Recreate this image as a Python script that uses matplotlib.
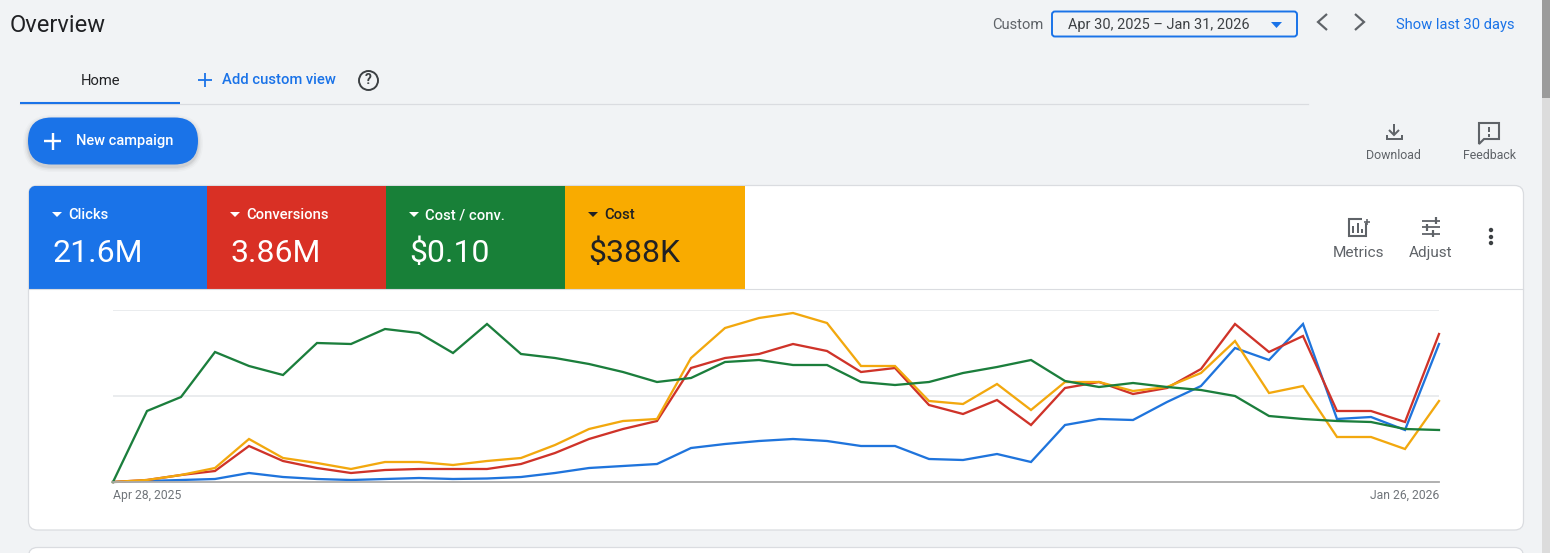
import matplotlib
matplotlib.use("Agg")
import matplotlib.pyplot as plt
from matplotlib.patches import Rectangle, FancyBboxPatch, Circle, Polygon
import numpy as np

plt.rcParams['font.family'] = ['Roboto', 'DejaVu Sans']

W, H = 1550, 553

# ---- data (height above the baseline) ----
weeks = np.arange(40)
tick_weeks = [0, 39]
tick_labels = ["Apr 28, 2025", "Jan 26, 2026"]
clicks = [0, 1, 2, 3, 9, 5, 3, 2, 3, 4, 3, 3.5, 5, 9, 14, 16, 18, 34, 38, 41, 43, 41, 36, 36,
          23, 22, 28, 20, 57, 63, 62, 80, 96, 134, 122, 158, 63, 65, 52, 138]
conversions = [0, 2, 7, 11, 36, 21, 14, 9, 12, 13, 13, 13, 18, 29, 43, 53, 61, 114, 124, 128, 138, 131, 110, 114,
               77, 68, 82, 57, 94, 100, 88, 94, 113, 158, 130, 146, 71, 71, 60, 148]
cost_per_conv = [0, 71, 85, 130, 116, 107, 139, 138, 153, 149, 129, 158, 128, 124, 118, 110, 100, 104, 120, 122, 117, 117, 100, 97,
                 100, 109, 115, 122, 101, 95, 99, 95, 92, 86, 66, 63, 61, 60, 53, 52]
cost = [0, 2, 7, 14, 43, 24, 19, 13, 20, 20, 17, 21, 24, 37, 53, 61, 63, 124, 154, 164, 169, 159, 116, 116,
        81, 78, 98, 72, 100, 100, 91, 95, 109, 141, 89, 96, 45, 45, 33, 81]

tiles = [("Clicks", "21.6M", "#1a73e8", "white"),
         ("Conversions", "3.86M", "#d93025", "white"),
         ("Cost / conv.", "$0.10", "#188038", "white"),
         ("Cost", "$388K", "#f9ab00", "#202124")]
tile_edges = [29, 207, 386, 565, 745]

BG = "#f1f3f5"
BLUE = "#1a73e8"
GREY = "#5f6368"
DARK = "#202124"

fig = plt.figure(figsize=(W / 100, H / 100), dpi=100, facecolor=BG)

# full-figure overlay in pixel coordinates for the page furniture
ui = fig.add_axes([0, 0, 1, 1], zorder=1)
ui.set_xlim(0, W)
ui.set_ylim(H, 0)
ui.axis("off")


def label(x, y, s, size, color=GREY, ha="left", weight="normal"):
    ui.text(x, y, s, fontsize=size * 0.72, color=color, ha=ha, va="center", fontweight=weight)


def stroke(xs, ys, color=GREY, lw=2.0):
    ui.plot(xs, ys, color=color, lw=lw * 0.72, solid_capstyle="butt", solid_joinstyle="miter")


# scrollbar
ui.add_patch(Rectangle((1542, 0), 8, H, fc="#dcdcdc", ec="none"))
ui.add_patch(Rectangle((1542, 0), 8, 98, fc="#9b9b9b", ec="none"))

# header
label(10, 25, "Overview", 23.6, DARK)
label(992, 25, "Custom", 14.8, GREY)
ui.add_patch(FancyBboxPatch((1052, 11.5), 245, 25, boxstyle="round,pad=0,rounding_size=3",
                            fc=BG, ec=BLUE, lw=1.4))
label(1068, 25, "Apr 30, 2025 \u2013 Jan 31, 2026", 14.5, "#3c4043")
ui.add_patch(Polygon([[1271, 22], [1282, 22], [1276.5, 28]], fc=BLUE, ec="none"))
stroke([1327, 1318, 1327], [14, 22, 30], GREY, 2.2)
stroke([1355, 1364, 1355], [14, 22, 30], GREY, 2.2)
label(1396, 25, "Show last 30 days", 14.7, BLUE)

# tabs
label(100, 81, "Home", 14.8, DARK, ha="center")
stroke([198, 212], [80, 80], BLUE, 1.8)
stroke([205, 205], [73, 87], BLUE, 1.8)
label(222, 80.5, "Add custom view", 14.8, BLUE, weight="medium")
ui.add_patch(Circle((368.5, 80.5), 9.5, fc="none", ec="#3c4043", lw=1.4))
ui.text(368.5, 80.5, "?", fontsize=10, color="#3c4043", ha="center", va="center", fontweight="bold")
ui.plot([20, 1308], [104, 104], color="#dadce0", lw=0.9)
ui.plot([20, 180], [103, 103], color=BLUE, lw=1.5, solid_capstyle="butt")

# new-campaign button with soft shadow
for grow, alpha in [(5, 0.02), (3.5, 0.03), (2, 0.04), (1, 0.05)]:
    ui.add_patch(FancyBboxPatch((28 - grow, 118 - grow + 2), 170 + 2 * grow, 47 + 2 * grow,
                                boxstyle=f"round,pad=0,rounding_size={23.5 + grow}",
                                fc="black", ec="none", alpha=alpha))
ui.add_patch(FancyBboxPatch((28, 117.5), 170, 47, boxstyle="round,pad=0,rounding_size=23.5",
                            fc=BLUE, ec="none"))
stroke([44, 61], [141, 141], "white", 2.4)
stroke([52.5, 52.5], [132.5, 149.5], "white", 2.4)
label(76, 141.5, "New campaign", 14.6, "white", weight="medium")

# download / feedback
stroke([1394, 1394], [124, 135], GREY, 2)
stroke([1389, 1394, 1399], [130, 135, 130], GREY, 2)
stroke([1386.5, 1386.5, 1401.5, 1401.5], [135, 139, 139, 135], GREY, 2)
label(1393.5, 155.5, "Download", 12.4, GREY, ha="center")
ui.add_patch(Polygon([[1479, 123], [1499, 123], [1499, 139], [1484, 139], [1479, 144]],
                     fc="none", ec=GREY, lw=1.5))
stroke([1489, 1489], [127, 132], GREY, 2)
stroke([1489, 1489], [134, 136.5], GREY, 2)
label(1489, 155.5, "Feedback", 12.4, GREY, ha="center")

# card
card = FancyBboxPatch((28.5, 185.5), 1495, 344.5, boxstyle="round,pad=0,rounding_size=9",
                      fc="white", ec="#dadce0", lw=0.9)
ui.add_patch(card)
next_card = FancyBboxPatch((28.5, 547.5), 1495, 40, boxstyle="round,pad=0,rounding_size=9",
                           fc="white", ec="#dadce0", lw=0.9)
ui.add_patch(next_card)
ui.plot([29, 1523], [289.2, 289.2], color="#dadce0", lw=0.8)

# metric tiles
for i, (name, value, colour, fg) in enumerate(tiles):
    x0, x1 = tile_edges[i], tile_edges[i + 1]
    r = Rectangle((x0, 186), x1 - x0, 103, fc=colour, ec="none")
    ui.add_patch(r)
    r.set_clip_path(card)
    ui.add_patch(Polygon([[x0 + 23, 212], [x0 + 33, 212], [x0 + 28, 217]], fc=fg, ec="none"))
    label(x0 + 39, 215, name, 14.7, fg, weight="medium")
    label(x0 + 23, 253.5, value, 32, fg)

# metrics / adjust / more
ui.add_patch(Rectangle((1349, 219), 17, 17, fc="none", ec=GREY, lw=1.5))
ui.add_patch(Rectangle((1362, 215), 8, 8, fc="white", ec="none"))
stroke([1364, 1370], [222, 222], GREY, 1.6)
stroke([1367, 1367], [219, 225], GREY, 1.6)
for bx, t in zip([1353, 1357.5, 1362], [226, 223, 229]):
    stroke([bx, bx], [t, 233], GREY, 2)
label(1358, 253, "Metrics", 15.4, GREY, ha="center")
for y, k in zip([220.5, 227, 233.5], [1436, 1427, 1433]):
    stroke([1422, 1440], [y, y], GREY, 1.8)
    stroke([k, k], [y - 3.5, y + 3.5], GREY, 2.2)
    ui.add_patch(Rectangle((k - 3.5 if k != 1427 else k + 1, y - 2), 2.5, 4, fc="white", ec="none"))
label(1431, 252.5, "Adjust", 15.2, GREY, ha="center")
for y in [230, 237, 243]:
    ui.add_patch(Circle((1491, y), 2.2, fc="#3c4043", ec="none"))

# chart
ax = fig.add_axes([113 / W, 1 - 482 / H, (1439 - 113) / W, (482 - 310) / H], zorder=2)
ax.patch.set_alpha(0)
ax.set_xlim(weeks[0], weeks[-1])
ax.set_ylim(0, 172)
for s in ["top", "left", "right"]:
    ax.spines[s].set_visible(False)
ax.spines["bottom"].set_color("#aaaaaa")
ax.spines["bottom"].set_linewidth(1.3)
ax.set_yticks([86, 172])
ax.tick_params(axis="y", length=0, labelleft=False)
ax.grid(axis="y", color="#e8eaed", lw=1.3)
ax.set_axisbelow(True)
ax.set_xticks(tick_weeks)
ax.set_xticklabels(tick_labels, fontsize=8.7, color="#70757a")
ax.tick_params(axis="x", length=0, pad=5)
ax.get_xticklabels()[0].set_ha("left")
ax.get_xticklabels()[1].set_ha("right")

for series, colour in [(clicks, "#1f74dc"), (conversions, "#cf3329"),
                       (cost, "#f2a80e"), (cost_per_conv, "#1b7e3c")]:
    ax.plot(weeks, series, color=colour, lw=1.65, solid_joinstyle="miter", clip_on=False)

fig.savefig("out.png", dpi=100, facecolor=BG)
